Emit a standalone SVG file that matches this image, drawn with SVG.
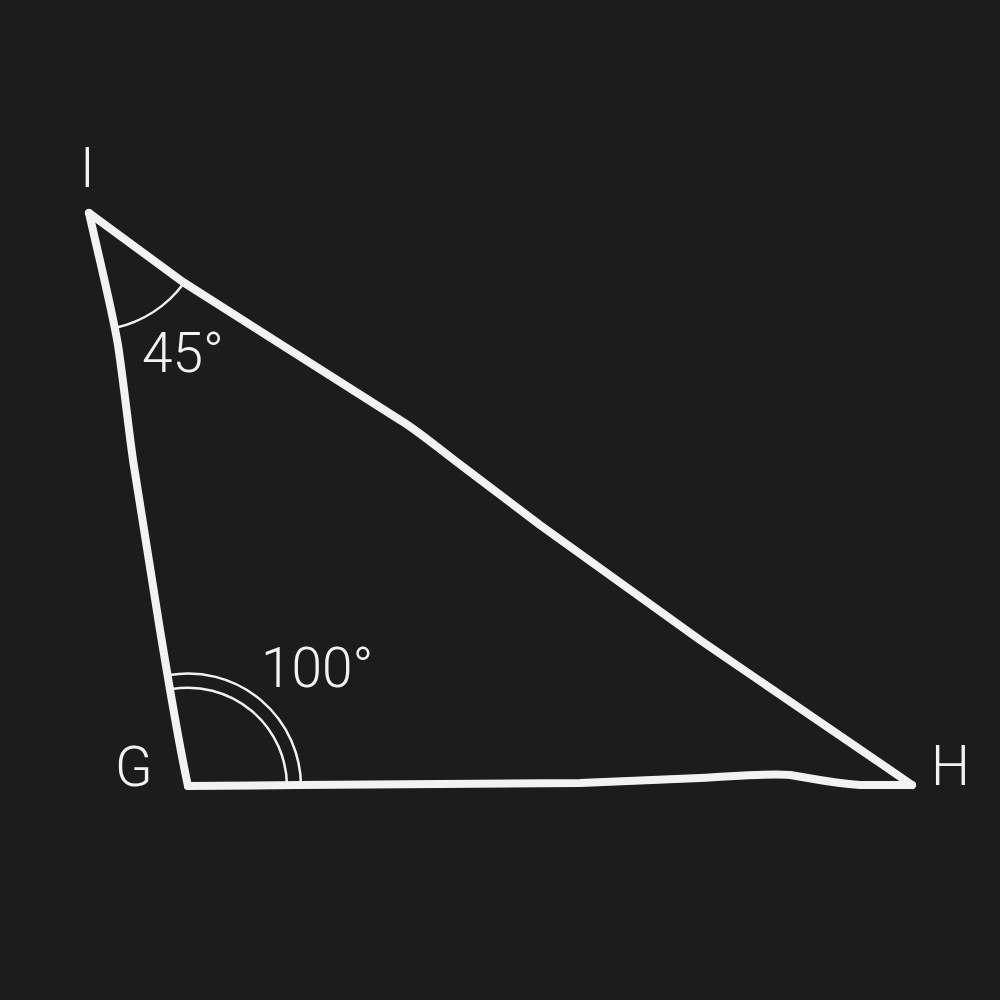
<svg xmlns="http://www.w3.org/2000/svg" width="1000" height="1000" viewBox="0 0 1000 1000">
<style>
.edge{fill:none;stroke:#f2f2f2;stroke-width:8;stroke-linecap:round;stroke-linejoin:round}
.arc{fill:none;stroke:#f2f2f2;stroke-width:2.5}
.lbl{font-family:Roboto,"Liberation Sans",Arial,sans-serif;font-weight:300;font-size:55px;fill:#f2f2f2}
</style>
<rect width="1000" height="1000" fill="#1c1c1c"/>
<g id="connectors">
<path class="edge" d="M89,213 C102,270 112,310 118,345 C124,385 128,425 133,460 C142,520 152,580 160,630 C170,690 178,740 188,786"/>
<path class="edge" d="M89,213 L183,282 L400,420 C420,432 440,450 470,472 L540,525 L700,640 L880,763 L912,785"/>
<path class="edge" d="M188,786 L300,785 L580,783 L700,778 C740,776 770,773 790,775 C810,778 830,783 860,785 L912,785"/>
</g>
<g id="angle-I">
<path class="arc" d="M184,283 A118,118 0 0 1 115,328"/>
<text class="lbl" x="142" y="372">45°</text>
</g>
<g id="angle-G">
<path class="arc" d="M169.5,675 A113,113 0 0 1 301,786"/>
<path class="arc" d="M172,689 A99,99 0 0 1 287,786"/>
<text class="lbl" x="261" y="687">100°</text>
</g>
<g id="node-I"><text class="lbl" x="80" y="187">I</text></g>
<g id="node-G"><text class="lbl" x="115" y="786">G</text></g>
<g id="node-H"><text class="lbl" x="931" y="785">H</text></g>
</svg>
